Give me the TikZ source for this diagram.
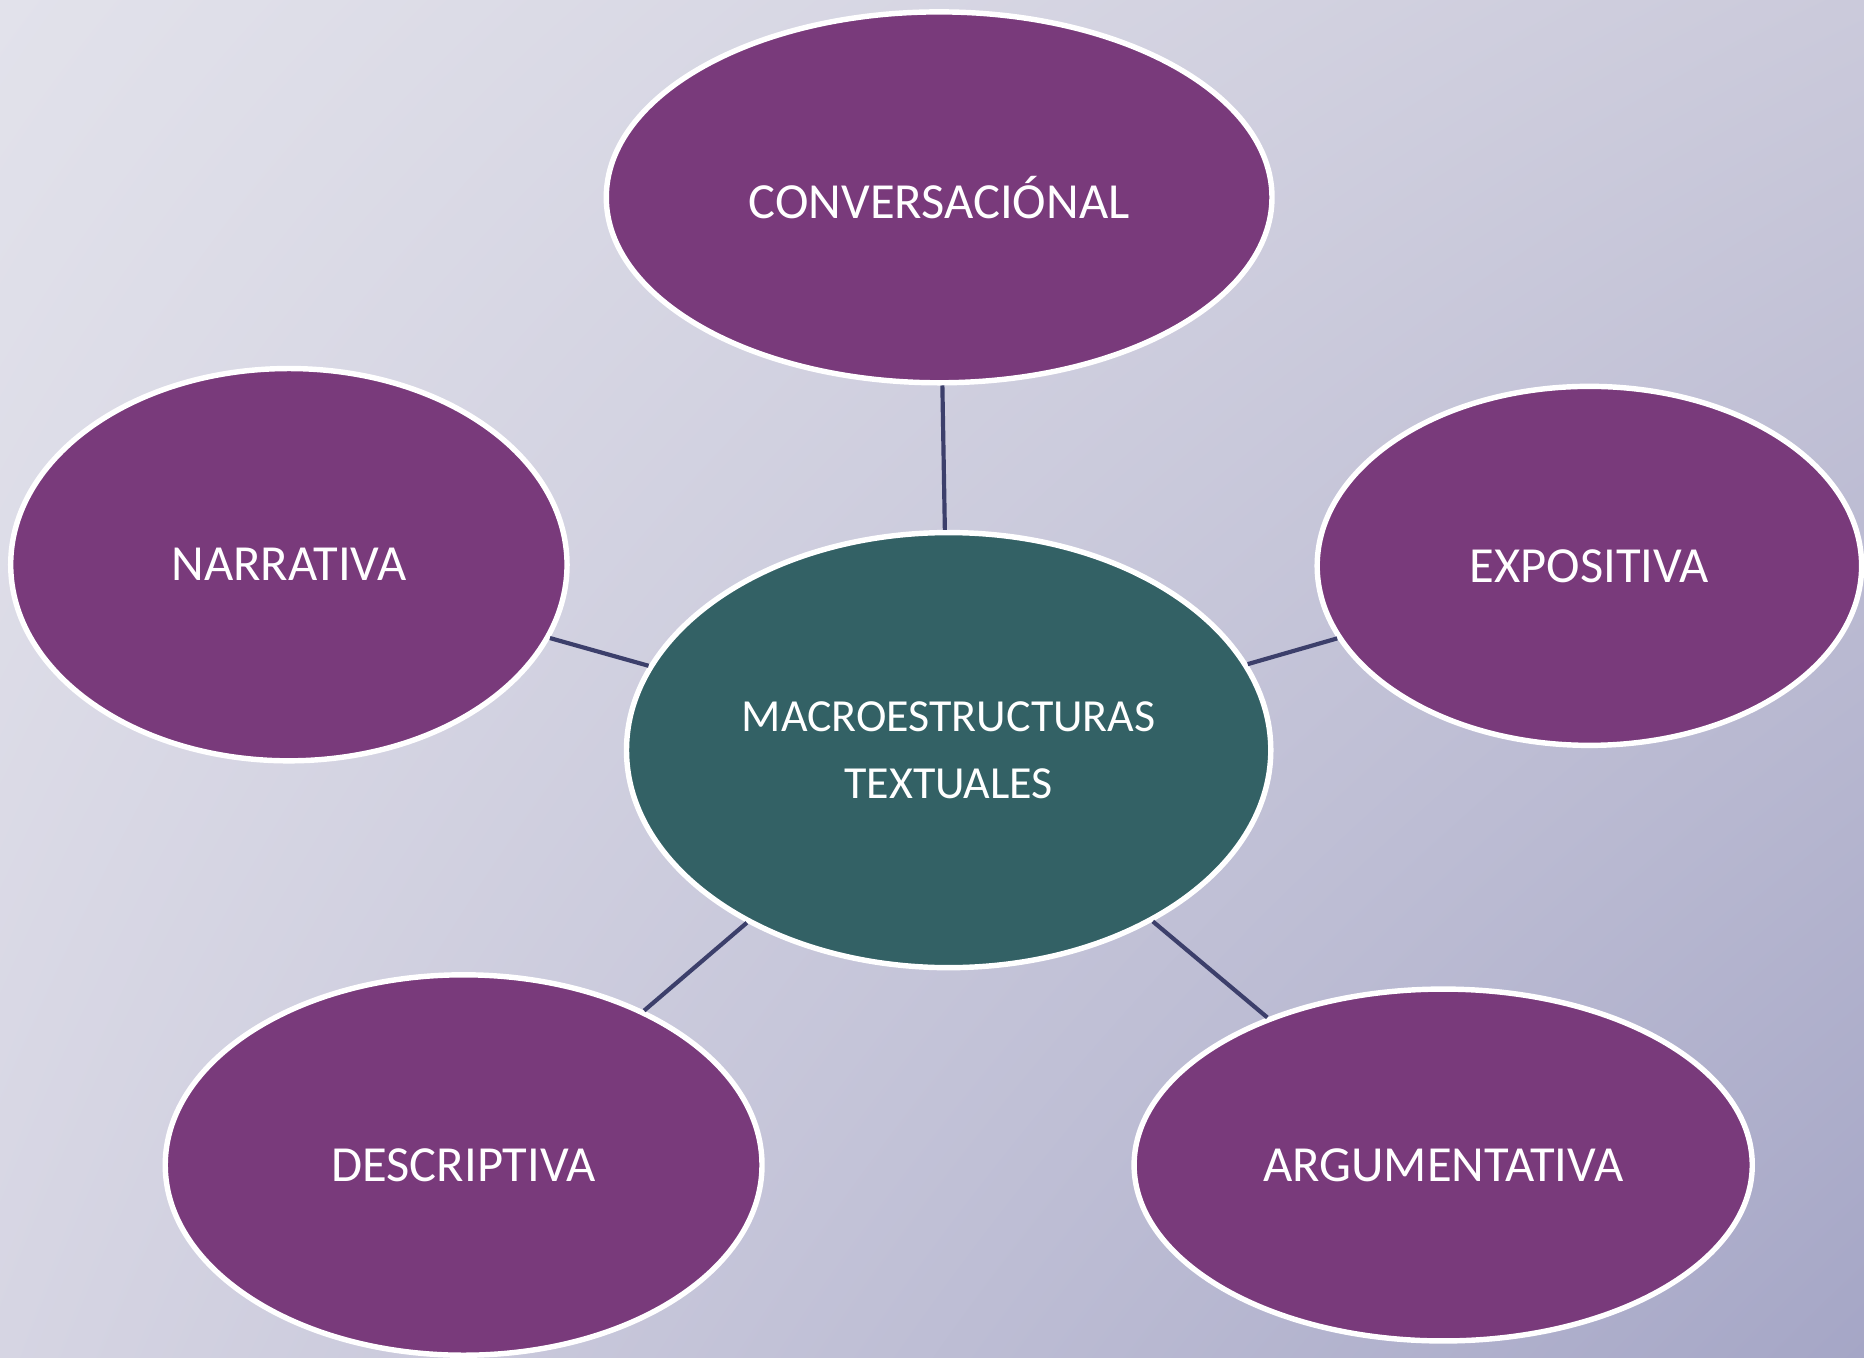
\documentclass[tikz,border=0pt]{standalone}
\usepackage{fontspec}
\setmainfont{Carlito}
\usetikzlibrary{shapes.geometric,shadings}
\definecolor{bubblepurple}{HTML}{793A7B}
\definecolor{hubteal}{HTML}{336165}
\definecolor{linknavy}{HTML}{3C3F6B}
\definecolor{bgtl}{HTML}{E2E2EB}
\definecolor{bgtr}{HTML}{CBCADB}
\definecolor{bgbl}{HTML}{D6D5E3}
\definecolor{bgbr}{HTML}{A5A6C6}
\begin{document}
\begin{tikzpicture}[
    bubble/.style={ellipse, draw=white, line width=1.3pt, fill=bubblepurple,
      text=white, inner sep=0pt, font=\fontsize{12.1}{14.5}\selectfont},
    hub/.style={bubble, fill=hubteal, align=center, font=\fontsize{11}{16.2}\selectfont},
    link/.style={draw=linknavy, line width=1pt}
  ]
            \shade[upper left=bgtl, upper right=bgtr, lower left=bgbl, lower right=bgbr]
              (0,0) rectangle (15.68,11.42);
            \useasboundingbox (0,0) rectangle (15.68,11.42);
            \node[hub, minimum width=5.42cm, minimum height=3.66cm] (macro) at (7.98, 5.11) {MACROESTRUCTURAS\\TEXTUALES};
            \node[bubble, minimum width=5.60cm, minimum height=3.12cm] (conv) at (7.90, 9.76) {CONVERSACIÓNAL};
            \draw[link] (conv) to (macro);
            \node[bubble, minimum width=4.68cm, minimum height=3.30cm] (narr) at (2.43, 6.67) {NARRATIVA};
            \draw[link] (narr) to (macro);
            \node[bubble, minimum width=4.58cm, minimum height=3.02cm] (expo) at (13.37, 6.66) {EXPOSITIVA};
            \draw[link] (expo) to (macro);
            \node[bubble, minimum width=5.02cm, minimum height=3.20cm] (desc) at (3.90, 1.62) {DESCRIPTIVA};
            \draw[link] (desc) to (macro);
            \node[bubble, minimum width=5.20cm, minimum height=2.96cm] (argu) at (12.14, 1.62) {ARGUMENTATIVA};
            \draw[link] (argu) to (macro);
        \end{tikzpicture}
\end{document}
